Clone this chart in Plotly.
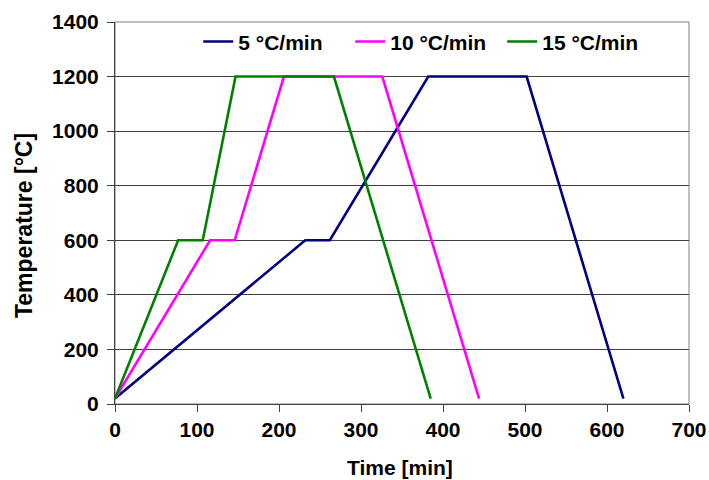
import plotly.graph_objects as go

# Data
series_names = ["5 °C/min", "10 °C/min", "15 °C/min"]
time_5 = [0, 232, 262, 382, 502, 620]
temp_5 = [20, 600, 600, 1200, 1200, 20]
time_10 = [0, 116, 146, 206, 326, 444]
temp_10 = [20, 600, 600, 1200, 1200, 20]
time_15 = [0, 77, 107, 147, 267, 385]
temp_15 = [20, 600, 600, 1200, 1200, 20]
colors = ["#000080", "#FF00FF", "#008000"]

x_ticks = [0, 100, 200, 300, 400, 500, 600, 700]
y_ticks = [0, 200, 400, 600, 800, 1000, 1200, 1400]
x_title = "Time [min]"
y_title = "Temperature [°C]"

FONT = "Liberation Sans, Arial, sans-serif"

fig = go.Figure()
for name, xs, ys, c in zip(series_names, [time_5, time_10, time_15],
                           [temp_5, temp_10, temp_15], colors):
    fig.add_trace(go.Scatter(x=xs, y=ys, mode="lines", name=name,
                             line=dict(color=c, width=2.6)))

fig.add_shape(type="rect", xref="x domain", yref="y domain", x0=0, x1=1, y0=0, y1=1,
              line=dict(color="#808080", width=1), layer="below")

axis_common = dict(
    showline=True, linecolor="#404040", linewidth=1,
    ticks="outside", ticklen=7, tickcolor="#404040", tickwidth=1,
    tickfont=dict(family=FONT, size=21, color="black", weight="bold"),
    zeroline=False, automargin=False,
)

fig.update_xaxes(range=[0, 700], tickvals=x_ticks, showgrid=False, **axis_common)
fig.update_yaxes(range=[0, 1400], tickvals=y_ticks, showgrid=True,
                 gridcolor="#404040", gridwidth=1, ticklabelstandoff=4, **axis_common)

fig.add_annotation(text=f"<b>{x_title}</b>", xref="paper", yref="paper",
                   x=0.496, y=-0.1675, xanchor="center", yanchor="middle", showarrow=False,
                   font=dict(family=FONT, size=21, color="black"))
fig.add_annotation(text=f"<b>{y_title}</b>", xref="paper", yref="paper",
                   x=-0.1585, y=0.466, xanchor="center", yanchor="middle", showarrow=False,
                   textangle=-90, font=dict(family=FONT, size=23, color="black"))

fig.update_layout(
    width=709, height=480,
    margin=dict(l=115, r=20, t=22, b=76),
    paper_bgcolor="white", plot_bgcolor="white",
    font=dict(family=FONT, color="black"),
    showlegend=True,
    legend=dict(orientation="h", x=0.145, xanchor="left", y=0.948, yanchor="middle",
                bgcolor="rgba(0,0,0,0)", borderwidth=0,
                font=dict(family=FONT, size=21, color="black", weight="bold"),
                entrywidth=107, entrywidthmode="pixels", traceorder="normal"),
)

fig.write_html("out.html", config={"displayModeBar": False},
               post_script="document.body.style.margin='0px';document.body.style.overflow='hidden';")
